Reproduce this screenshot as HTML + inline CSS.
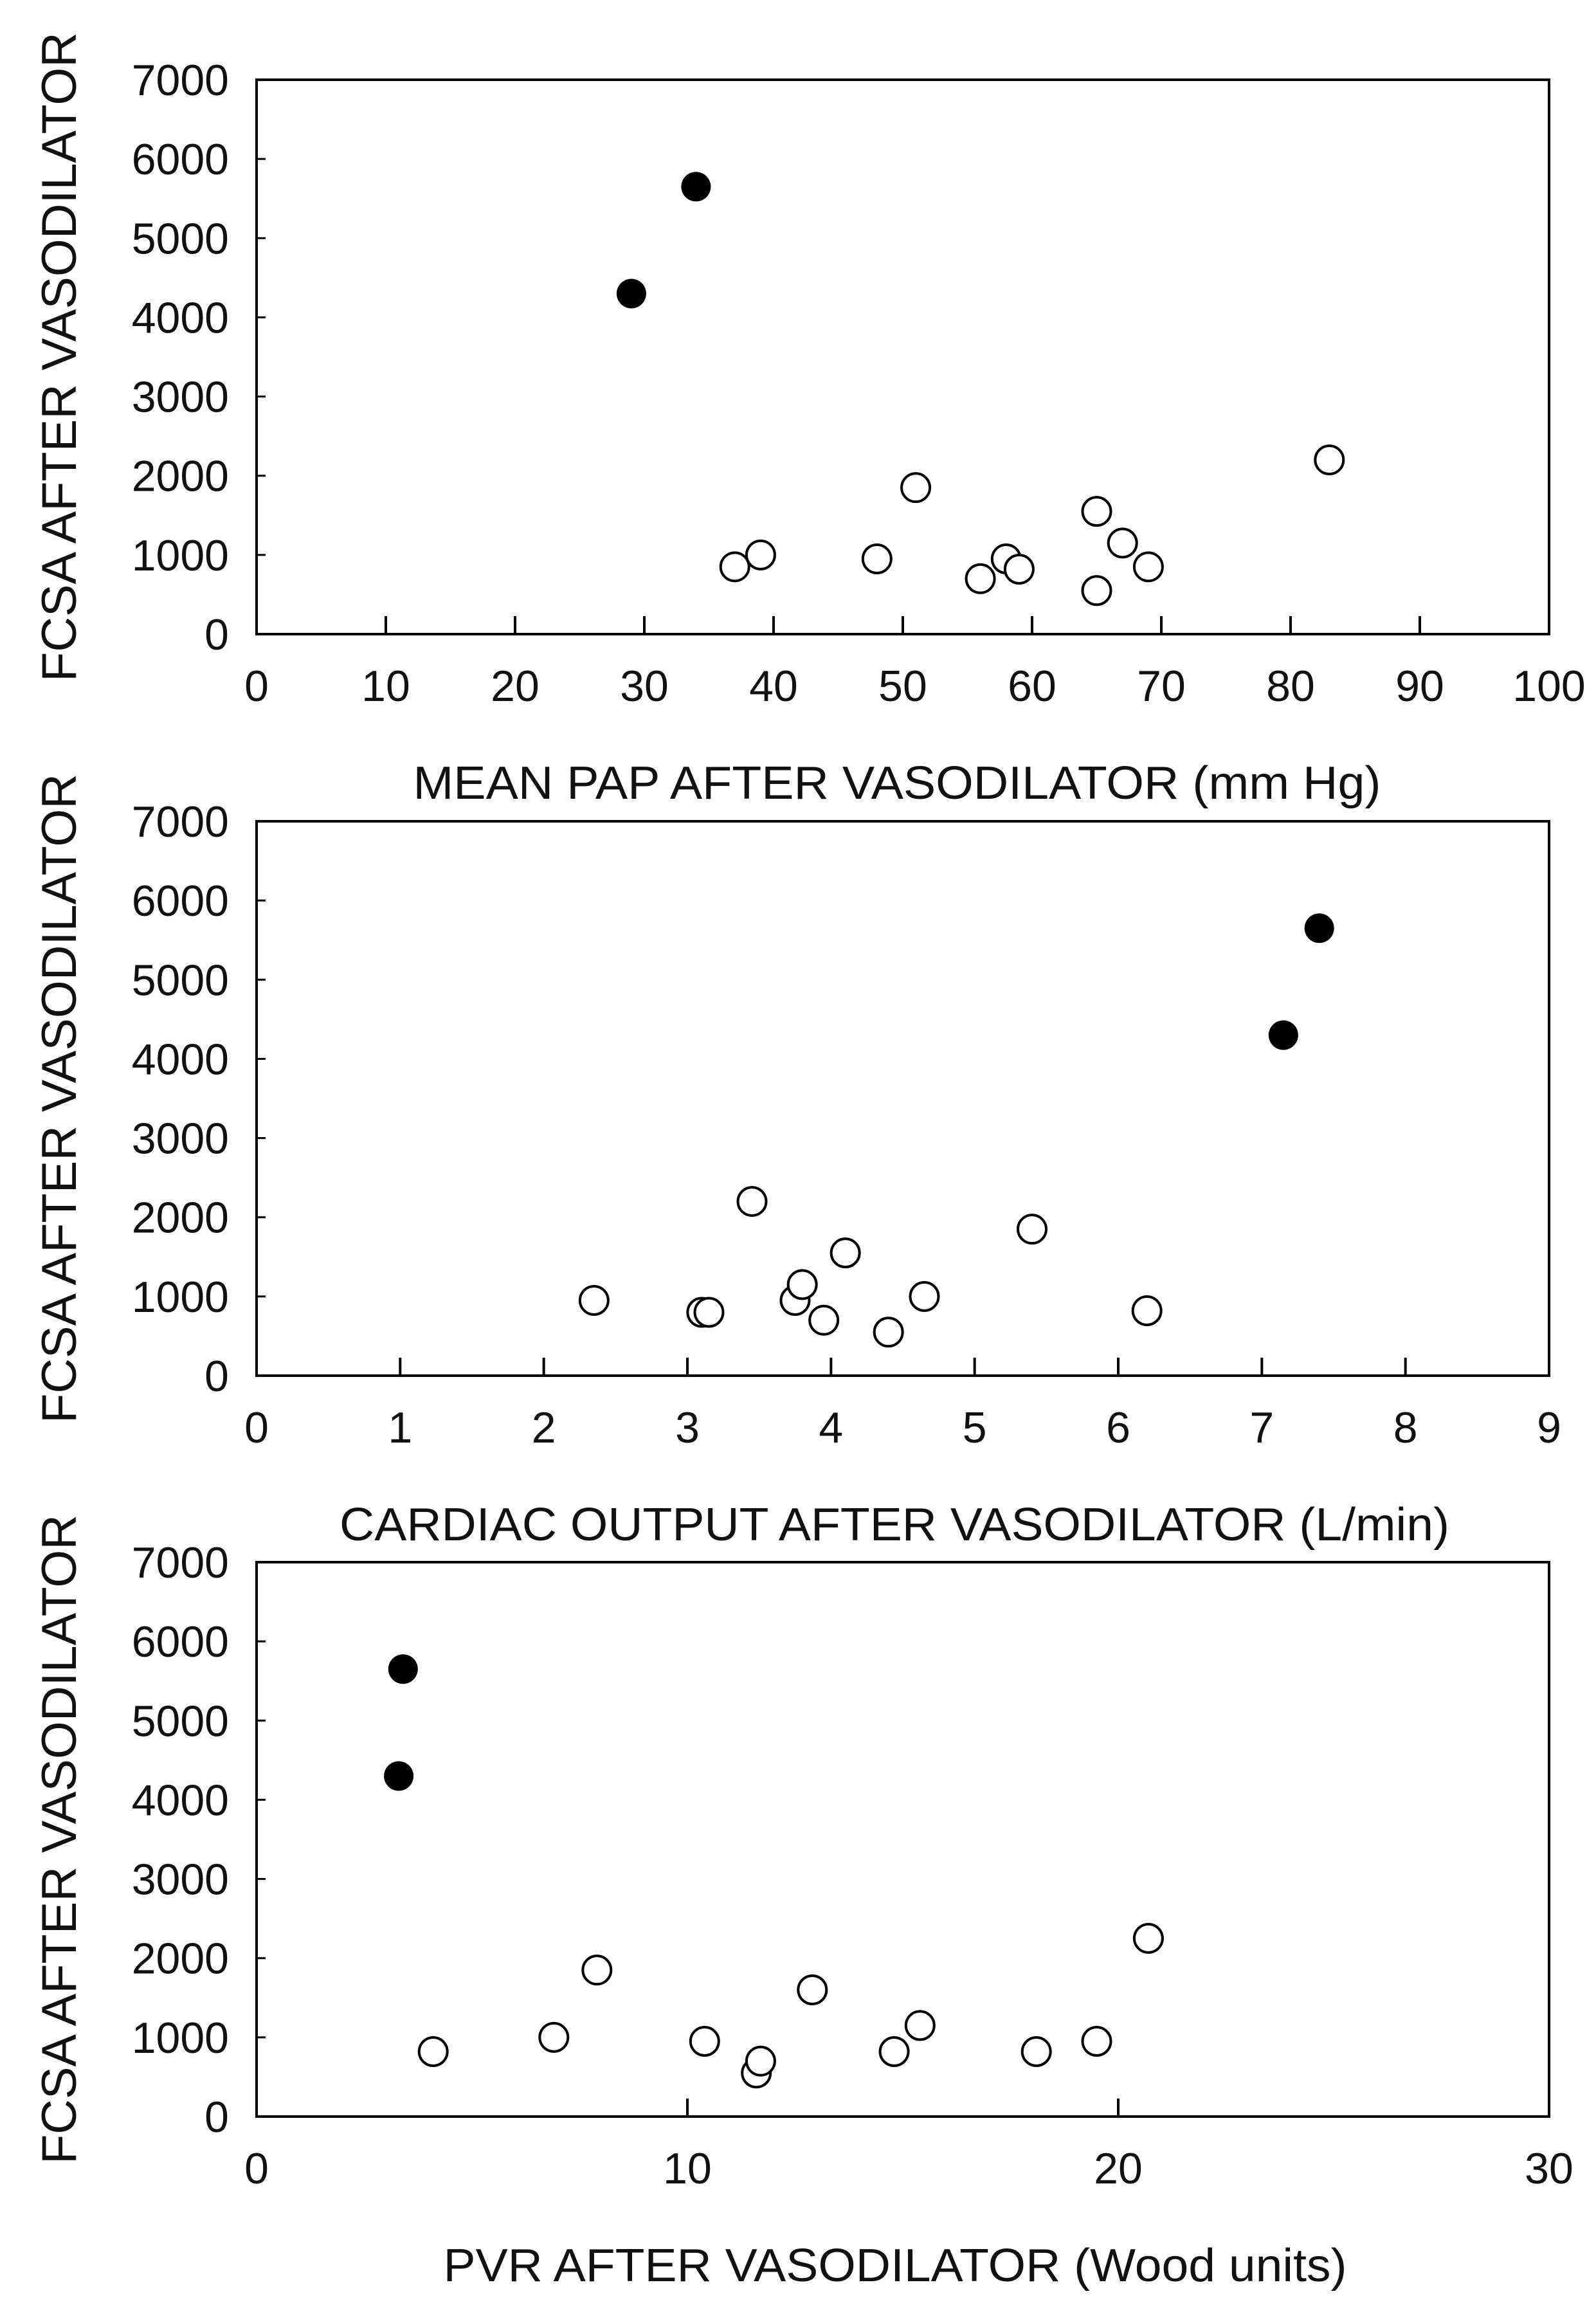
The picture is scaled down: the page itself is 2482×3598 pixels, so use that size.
<!DOCTYPE html>
<html><head><meta charset="utf-8"><style>
html,body{margin:0;padding:0;background:#fff;}
svg{display:block;}
text{font-family:"Liberation Sans",sans-serif;fill:#111;}
</style></head>
<body>
<svg id="fig" width="2482" height="3598" viewBox="0 0 2482 3598" xmlns="http://www.w3.org/2000/svg"></svg>
<script>
// Panel 1: Mean PAP
const papOpenX = [37,39,48,51,56,58,59,65,65,67,69,83];
const papOpenY = [850,1000,950,1850,700,950,820,1550,550,1150,850,2200];
const papFilledX = [29,34];
const papFilledY = [4300,5650];
const papTicks = [0,10,20,30,40,50,60,70,80,90,100];
// Panel 2: Cardiac output
const coOpenX = [2.35,3.1,3.15,3.45,3.75,3.8,3.95,4.1,4.4,4.65,5.4,6.2];
const coOpenY = [950,800,800,2200,950,1150,700,1550,550,1000,1850,820];
const coFilledX = [7.15,7.4];
const coFilledY = [4300,5650];
const coTicks = [0,1,2,3,4,5,6,7,8,9];
// Panel 3: PVR
const pvrOpenX = [4.1,6.9,7.9,10.4,11.6,11.7,12.9,14.8,15.4,18.1,19.5,20.7];
const pvrOpenY = [820,1000,1850,950,550,700,1600,820,1150,820,950,2250];
const pvrFilledX = [3.3,3.4];
const pvrFilledY = [4300,5650];
const pvrTicks = [0,10,20,30];
const yTicks = [0,1000,2000,3000,4000,5000,6000,7000];

const NS = "http://www.w3.org/2000/svg";
const svg = document.getElementById('fig');
function mk(tag, attrs, parent, txt){
  const e = document.createElementNS(NS, tag);
  for (const k in attrs) e.setAttribute(k, attrs[k]);
  if (txt !== undefined) e.textContent = txt;
  (parent||svg).appendChild(e);
  return e;
}
const L = 399, R = 2409;
function panel(id, top, xMax, ticks, oX, oY, fX, fY, xTitle, xTitleLen){
  const bot = top + 862;
  const g = mk('g', {});
  
  
  const sx = v => L + (R - L) * v / xMax;
  const sy = v => bot - (bot - top) * v / 7000;
  const frame = mk('rect', {x:L, y:top, width:R-L, height:bot-top, fill:'none', stroke:'#000', 'stroke-width':4}, g);
  
  
  yTicks.forEach(v => {
    const y = sy(v);
    if (v > 0 && v < 7000) {
      const t = mk('line', {x1:L, x2:L+14, y1:y, y2:y, stroke:'#000', 'stroke-width':3}, g);
      
      
    }
    const lb = mk('text', {x:356, y:y+24, 'text-anchor':'end', 'font-size':68}, g, String(v));
    
    
  });
  ticks.forEach(v => {
    const x = sx(v);
    if (v > 0 && v < xMax) {
      const t = mk('line', {x1:x, x2:x, y1:bot, y2:bot-28, stroke:'#000', 'stroke-width':4}, g);
      
      
    }
    const lb = mk('text', {x:x, y:bot+104, 'text-anchor':'middle', 'font-size':68}, g, String(v));
    
    
  });
  oX.forEach((v, i) => {
    const c = mk('circle', {cx:sx(v), cy:sy(oY[i]), r:22, fill:'#fff', stroke:'#000', 'stroke-width':4}, g);
    
    
  });
  fX.forEach((v, i) => {
    const c = mk('circle', {cx:sx(v), cy:sy(fY[i]), r:23, fill:'#000'}, g);
    
    
  });
  const cy = (top + bot) / 2;
  const yt = mk('text', {x:0, y:0, transform:'translate(118,'+cy+') rotate(-90)', 'text-anchor':'middle', 'font-size':76, textLength:1010, lengthAdjust:'spacingAndGlyphs'}, g, 'FCSA AFTER VASODILATOR');
  
  
  const xt = mk('text', {x:xTitle, y:bot+256, 'text-anchor':'middle', 'font-size':72, textLength:xTitleLen, lengthAdjust:'spacingAndGlyphs'}, g, '');
  return xt;
}
const t1 = panel('mean-pap', 124, 100, papTicks, papOpenX, papOpenY, papFilledX, papFilledY, 1395, 1505);
t1.textContent = 'MEAN PAP AFTER VASODILATOR (mm Hg)';


const t2 = panel('cardiac-output', 1277, 9, coTicks, coOpenX, coOpenY, coFilledX, coFilledY, 1391, 1726);
t2.textContent = 'CARDIAC OUTPUT AFTER VASODILATOR (L/min)';


const t3 = panel('pvr', 2429, 30, pvrTicks, pvrOpenX, pvrOpenY, pvrFilledX, pvrFilledY, 1392, 1405);
t3.textContent = 'PVR AFTER VASODILATOR (Wood units)';


</script>
</body></html>
